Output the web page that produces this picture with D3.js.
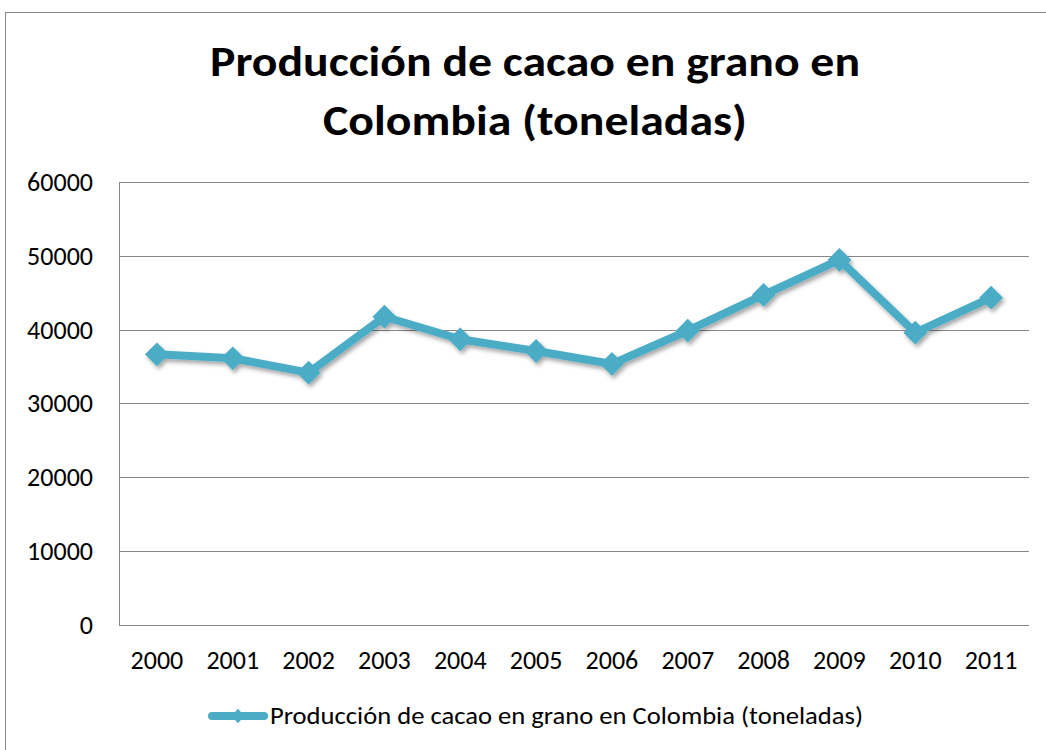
<!DOCTYPE html>
<html>
<head>
<meta charset="utf-8">
<script src="https://cdn.jsdelivr.net/npm/d3@7"></script>
<style>
  html, body { margin: 0; padding: 0; background: #fff; }
  svg { display: block; }
  text { font-family: Carlito, Calibri, "Open Sans", "Noto Sans", sans-serif; fill: #000; }
</style>
</head>
<body>
<svg id="chart" width="1046" height="750"></svg>
<script>
// Cocoa bean production in Colombia, tonnes per year
const years = ["2000","2001","2002","2003","2004","2005","2006","2007","2008","2009","2010","2011"];
const production = [36660, 36120, 34170, 41760, 38700, 37110, 35350, 39860, 44710, 49460, 39590, 44340];
const yTicks = [0, 10000, 20000, 30000, 40000, 50000, 60000];
const titleLines = ["Producción de cacao en grano en", "Colombia (toneladas)"];
const seriesName = "Producción de cacao en grano en Colombia (toneladas)";

const svg = d3.select("#chart");
const color = "#4BACC6";
const fontStack = 'Carlito, Calibri, "Open Sans", "Noto Sans", sans-serif';

// outer chart frame
svg.append("rect")
  .attr("x", 5.5).attr("y", 12.5)
  .attr("width", 1100).attr("height", 800)
  .attr("fill", "none").attr("stroke", "#888").attr("stroke-width", 1);

// title
const titleBaselines = [76, 135];
const titleWidths = [650, 424];
titleLines.forEach((t, i) => {
  svg.append("text")
    .attr("x", 535).attr("y", titleBaselines[i])
    .attr("text-anchor", "middle")
    .attr("font-size", 43).attr("font-weight", "bold")
    .attr("textLength", titleWidths[i]).attr("lengthAdjust", "spacingAndGlyphs")
    .text(t);
});

const plot = { left: 119, right: 1029, top: 182.3, bottom: 624.5 };

const x = d3.scaleBand().domain(years).range([plot.left, plot.right]);
const y = d3.scaleLinear().domain([0, 60000]).range([plot.bottom, plot.top]);

// horizontal gridlines
svg.append("g").selectAll("line").data(yTicks).join("line")
  .attr("x1", plot.left).attr("x2", plot.right)
  .attr("y1", d => Math.round(y(d)) + 0.5).attr("y2", d => Math.round(y(d)) + 0.5)
  .attr("stroke", "#888").attr("stroke-width", 1);

// left axis line
svg.append("line")
  .attr("x1", plot.left + 0.5).attr("x2", plot.left + 0.5)
  .attr("y1", Math.round(y(60000)) + 0.5).attr("y2", Math.round(y(0)) + 0.5)
  .attr("stroke", "#888");

// y axis labels
const yAxis = d3.axisLeft(y).tickValues(yTicks).tickSize(0).tickPadding(26).tickFormat(d3.format("d"));
const gy = svg.append("g").attr("transform", `translate(${plot.left},0)`).call(yAxis);
gy.select(".domain").remove();
gy.selectAll("text")
  .attr("font-size", 26)
  .attr("font-family", fontStack)
  .attr("fill", "#000")
  .attr("dy", "0.33em");

// x axis labels
const xAxis = d3.axisBottom(x).tickSize(0).tickPadding(0);
const gx = svg.append("g").attr("transform", `translate(0,${plot.bottom})`).call(xAxis);
gx.select(".domain").remove();
gx.selectAll("text")
  .attr("font-size", 26)
  .attr("font-family", fontStack)
  .attr("fill", "#000")
  .attr("dy", null)
  .attr("y", 44);

// soft shadow under the series
const defs = svg.append("defs");
const f = defs.append("filter").attr("id", "shadow").attr("x", "-20%").attr("y", "-20%").attr("width", "140%").attr("height", "140%");
f.append("feDropShadow").attr("dx", 2).attr("dy", 3).attr("stdDeviation", 2)
  .attr("flood-color", "#000").attr("flood-opacity", 0.35);

const cx = d => x(d) + x.bandwidth() / 2;
const line = d3.line().x((d, i) => cx(years[i])).y(d => y(d));

const series = svg.append("g").attr("filter", "url(#shadow)");
series.append("path")
  .datum(production)
  .attr("d", line)
  .attr("fill", "none").attr("stroke", color)
  .attr("stroke-width", 8).attr("stroke-linejoin", "round");

const diamond = d3.symbol().type(d3.symbolDiamond2).size(360);
series.selectAll("path.marker").data(production).join("path")
  .attr("class", "marker")
  .attr("d", diamond)
  .attr("transform", (d, i) => `translate(${cx(years[i])},${y(d)})`)
  .attr("fill", color);

// legend
const leg = svg.append("g");
leg.append("line")
  .attr("x1", 212).attr("x2", 264).attr("y1", 716).attr("y2", 716)
  .attr("stroke", color).attr("stroke-width", 8).attr("stroke-linecap", "round");
leg.append("path").attr("d", d3.symbol().type(d3.symbolDiamond2).size(130)())
  .attr("transform", "translate(238,716) scale(0.9,1)").attr("fill", color);
svg.append("text")
  .attr("x", 270).attr("y", 724)
  .attr("font-size", 24)
  .attr("textLength", 593).attr("lengthAdjust", "spacingAndGlyphs")
  .text(seriesName);
</script>
</body>
</html>
